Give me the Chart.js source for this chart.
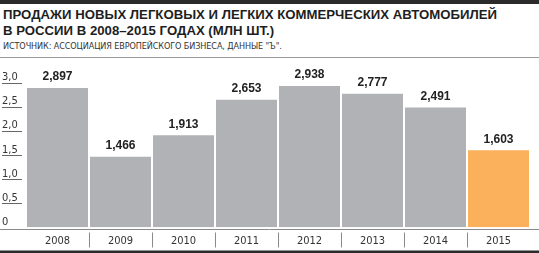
<!DOCTYPE html>
<html>
<head>
<meta charset="utf-8">
<script src="https://cdn.jsdelivr.net/npm/chart.js@4/dist/chart.umd.min.js"></script>
<style>
    body { margin: 0; background: #fff; }
    #wrap { position: relative; width: 539px; height: 253px; overflow: hidden; }
    #topbar { position: absolute; left: 0; top: 0; width: 539px; height: 4px; background: #2b2b2b; }
    .title { position: absolute; left: 3px; font: bold 13.2px "Liberation Sans", Arial, sans-serif; color: #1e1e1e; white-space: nowrap; }
    #src { position: absolute; left: 3px; top: 41px; font: 9px "Liberation Sans Narrow", "DejaVu Sans Condensed", sans-serif; color: #333; white-space: nowrap; letter-spacing: -0.1px; }
    #rule { position: absolute; left: 0; top: 57px; width: 539px; height: 1px; background: #9a9a9a; }
    #box { position: absolute; left: 0; top: 58px; width: 539px; height: 195px; }
</style>
</head>
<body>
<div id="wrap">
    <div id="topbar"></div>
    <div class="title" style="top:7px">ПРОДАЖИ НОВЫХ ЛЕГКОВЫХ И ЛЕГКИХ КОММЕРЧЕСКИХ АВТОМОБИЛЕЙ</div>
    <div class="title" style="top:23px">В РОССИИ В 2008–2015 ГОДАХ (МЛН ШТ.)</div>
    <div id="src">ИСТОЧНИК: АССОЦИАЦИЯ ЕВРОПЕЙСКОГО БИЗНЕСА, ДАННЫЕ "Ъ".</div>
    <div id="rule"></div>
    <div id="box"><canvas id="myChart" width="539" height="195"></canvas></div>
</div>
<script>
// данные
var years = ["2008", "2009", "2010", "2011", "2012", "2013", "2014", "2015"];
var sales = [2.897, 1.466, 1.913, 2.653, 2.938, 2.777, 2.491, 1.603];
var yTicks = [0, 0.5, 1.0, 1.5, 2.0, 2.5, 3.0];

var condensed = '"Liberation Sans Narrow", "DejaVu Sans Condensed", sans-serif';

function fmt(v, d)
{
    return v.toFixed(d).replace('.', ',');
}

// подписи значений над столбцами + линии
var extras = {
    id: 'extras',
    afterDatasetsDraw: function(chart)
    {
        var ctx = chart.ctx;
        var area = chart.chartArea;
        var xs = chart.scales.x;
        var ys = chart.scales.y;
        ctx.save();

        // подписи значений
        var meta = chart.getDatasetMeta(0);
        ctx.font = 'bold 12px "Liberation Sans", Arial, sans-serif';
        ctx.fillStyle = '#222';
        ctx.textAlign = 'center';
        ctx.textBaseline = 'bottom';
        meta.data.forEach(function(bar, i) {
            ctx.fillText(fmt(sales[i], 3), bar.x, bar.y - 5);
        });

        // подчеркивания у делений
        ctx.strokeStyle = '#666';
        ctx.lineWidth = 1;
        yTicks.forEach(function(t) {
            if (t === 0) return;
            var y = Math.round(ys.getPixelForValue(t)) + 0.5;
            ctx.beginPath();
            ctx.moveTo(2, y);
            ctx.lineTo(22, y);
            ctx.stroke();
        });

        // базовая линия
        var by = Math.round(area.bottom) + 2.5;
        ctx.strokeStyle = '#8a8a8a';
        ctx.beginPath();
        ctx.moveTo(0, by);
        ctx.lineTo(539, by);
        ctx.stroke();

        // разделители годов
        var step = xs.getPixelForValue(1) - xs.getPixelForValue(0);
        for (var i = 1; i < years.length; i++) {
            var sx = Math.round(xs.getPixelForValue(i) - step / 2) + 0.5;
            ctx.beginPath();
            ctx.moveTo(sx, by + 3);
            ctx.lineTo(sx, by + 18);
            ctx.stroke();
        }

        // нижняя жирная линия
        ctx.fillStyle = '#2b2b2b';
        ctx.fillRect(0, chart.height - 2.5, 539, 2.5);
        ctx.restore();
    }
};

var barColors = years.map(function(y) { return y === "2015" ? '#fbb15b' : '#b1b2b5'; });

var mychart = new Chart(document.getElementById('myChart'), {
    type: 'bar',
    data: {
        labels: years,
        datasets: [{
            data: sales,
            backgroundColor: barColors,
            barPercentage: 0.968,
            categoryPercentage: 1.0
        }]
    },
    options: {
        responsive: false,
        animation: false,
        events: [],
        layout: { padding: { left: 2, right: 9, top: 25, bottom: 0 } },
        plugins: { legend: { display: false }, tooltip: { enabled: false } },
        scales: {
            x: {
                grid: { display: false },
                border: { display: false },
                afterFit: function(scale) { scale.height = 25.7; },
                ticks: {
                    padding: -1,
                    color: '#333',
                    font: { family: condensed, size: 11 }
                }
            },
            y: {
                min: 0,
                max: 3,
                afterFit: function(scale) { scale.width = 24; },
                afterBuildTicks: function(scale) {
                    scale.ticks = yTicks.map(function(v) { return { value: v }; });
                },
                grid: { display: false },
                border: { display: false },
                ticks: {
                    autoSkip: false,
                    crossAlign: 'far',
                    color: '#333',
                    font: { family: condensed, size: 11, lineHeight: 1.0 },
                    callback: function(v) {
                        return [v === 0 ? '0' : fmt(v, 1), ''];
                    }
                }
            }
        }
    },
    plugins: [extras]
});
</script>
</body>
</html>
